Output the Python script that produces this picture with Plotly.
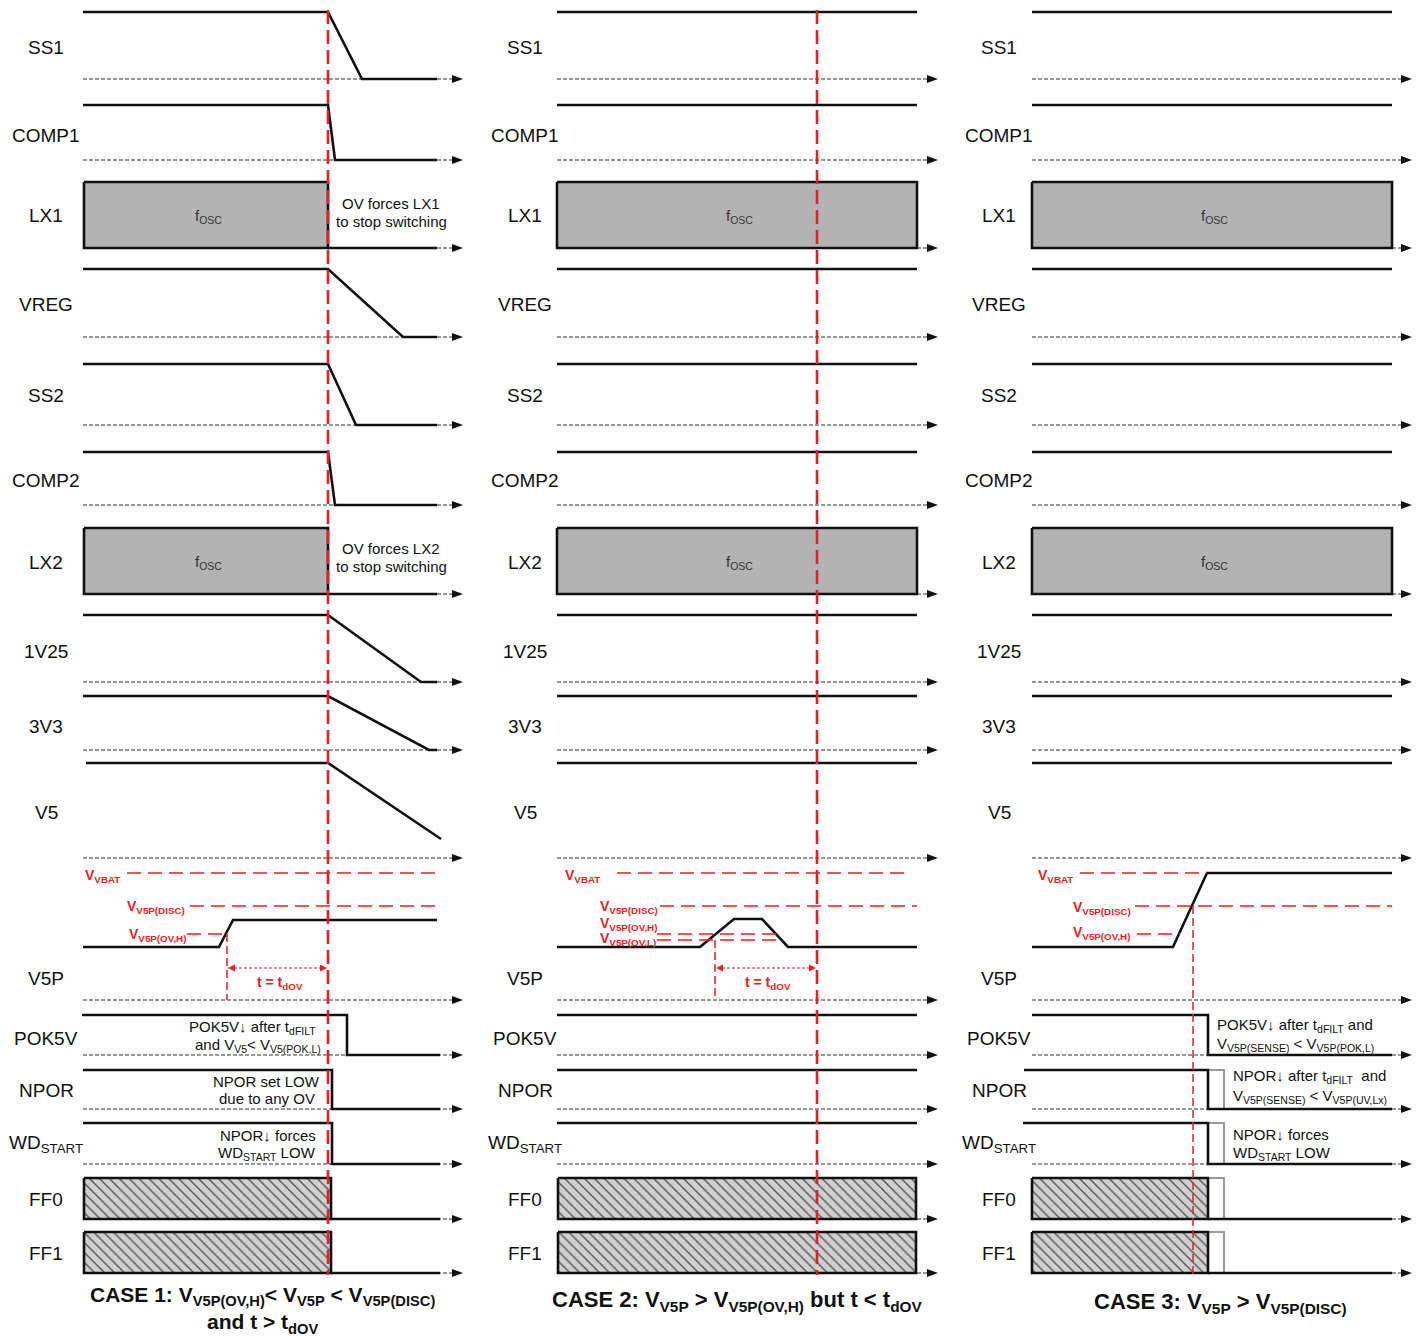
import plotly.graph_objects as go

# ------------------------------------------------------------------ data
# signal rows (top to bottom) and their labels
SIGNALS = ["SS1", "COMP1", "LX1", "VREG", "SS2", "COMP2", "LX2", "1V25", "3V3",
           "V5", "V5P", "POK5V", "NPOR", "WDSTART", "FF0", "FF1"]
LABELS = ["SS1", "COMP1", "LX1", "VREG", "SS2", "COMP2", "LX2", "1V25", "3V3",
          "V5", "V5P", "POK5V", "NPOR", "WD<sub>START</sub>", "FF0", "FF1"]

# ---- CASE 1 waveforms: time (units from panel start) and level (0 = low, 1 = high)
c1_ss1_t = [0, 245, 279, 354];   c1_ss1_v = [1, 1, 0, 0]
c1_comp1_t = [0, 245, 252, 354]; c1_comp1_v = [1, 1, 0, 0]
c1_vreg_t = [0, 245, 320, 354];  c1_vreg_v = [1, 1, 0, 0]
c1_ss2_t = [0, 245, 273, 354];   c1_ss2_v = [1, 1, 0, 0]
c1_comp2_t = [0, 245, 252, 354]; c1_comp2_v = [1, 1, 0, 0]
c1_1v25_t = [0, 245, 338, 354];  c1_1v25_v = [1, 1, 0, 0]
c1_3v3_t = [0, 245, 346, 354];   c1_3v3_v = [1, 1, 0, 0]
c1_v5_t = [3, 245, 358];         c1_v5_v = [1, 1, 0.2]
c1_v5p_t = [0, 136, 150, 354];   c1_v5p_v = [53, 53, 80, 80]
c1_pok5v_t = [-1, 264, 264, 357]; c1_pok5v_v = [1, 1, 0, 0]
c1_npor_t = [0, 249, 249, 357];  c1_npor_v = [1, 1, 0, 0]
c1_wd_t = [0, 249, 249, 357];    c1_wd_v = [1, 1, 0, 0]
c1_lx_box = [1, 245];  c1_lx_low = [245, 354]
c1_ff_box = [1, 248];  c1_ff_low = [248, 357]

# ---- CASE 2 waveforms
c2_flat_t = [0, 360];            c2_flat_v = [1, 1]
c2_v5p_t = [0, 143, 177, 205, 231, 360]; c2_v5p_v = [53, 53, 81, 81, 53, 53]
c2_lx_box = [0, 360]
c2_ff_box = [1, 359]

# ---- CASE 3 waveforms
c3_flat_t = [0, 360];            c3_flat_v = [1, 1]
c3_v5p_t = [0, 141, 175, 360];   c3_v5p_v = [53, 53, 127, 127]
c3_pok5v_t = [0, 176, 176, 360]; c3_pok5v_v = [1, 1, 0, 0]
c3_npor_t = [-8, 176, 176, 360]; c3_npor_v = [1, 1, 0, 0]
c3_wd_t = [-9, 176, 176, 360];   c3_wd_v = [1, 1, 0, 0]
c3_alt_t = [176, 192, 192];      c3_alt_v = [1, 1, 0]
c3_lx_box = [0, 360]
c3_ff_box = [0, 176];  c3_ff_alt = [176, 192]; c3_ff_low = [176, 360]

# V5P threshold levels (same units as V5P waveforms)
V5P_LEVELS = {"VBAT": 127, "DISC": 94, "OVH": 66, "OVL": 60}
V5P_LEVEL_TEXT = {"VBAT": "V<sub>VBAT</sub>", "DISC": "V<sub>V5P(DISC)</sub>",
                  "OVH": "V<sub>V5P(OV,H)</sub>", "OVL": "V<sub>V5P(OV,L)</sub>"}

# event times
T_OV = [245, 260, None]        # red marker line, cases 1 & 2
T_START = [144, 158, None]     # start of t_dOV measurement
T_DISC3 = 161                  # case 3 crossing of V5P(DISC)

# ------------------------------------------------------------------ layout
X0 = [83, 557, 1032]            # panel origin (time 0)
LABEL_X = [46, 525, 999]
ARROW_T = [380, 381, 380]
ROW_HIGH = [12, 105, 182, 269, 364, 452, 528, 615, 696, 763, None, 1015, 1070, 1123, 1178, 1232]
ROW_BASE = [79, 160, 248, 337, 425, 505, 594, 682, 750, 858, 1000, 1055, 1109, 1164, 1219, 1273]
LABEL_Y = [47, 135, 215, 304, 395, 480, 562, 651, 726, 812, 978, 1038, 1090, 1144, 1199, 1253]

RED = "#ec1c24"
FONT = "Liberation Sans, Arial, sans-serif"
ROW = {n: i for i, n in enumerate(SIGNALS)}

fig = go.Figure()


def X(c, t):
    return X0[c] + t


def Y(name, v):
    i = ROW[name]
    if name == "V5P":
        return ROW_BASE[i] - v
    return ROW_BASE[i] - v * (ROW_BASE[i] - ROW_HIGH[i])


def line(xs, ys, color="#111", width=2.6, dash="solid"):
    fig.add_trace(go.Scatter(x=xs, y=ys, mode="lines",
                             line=dict(color=color, width=width, dash=dash),
                             hoverinfo="skip", showlegend=False))


def poly(xs, ys, fill, lw=0, lc="#111", pattern=None):
    kw = dict(x=xs, y=ys, mode="lines", fill="toself", fillcolor=fill,
              line=dict(color=lc, width=lw), hoverinfo="skip", showlegend=False)
    if pattern:
        kw["fillpattern"] = pattern
    fig.add_trace(go.Scatter(**kw))


def text(x, y, s, size=15, color="#111", xanchor="center", bold=False, yanchor="middle"):
    if bold:
        s = "<b>" + s + "</b>"
    fig.add_annotation(x=x, y=y, text=s, showarrow=False, xanchor=xanchor,
                       yanchor=yanchor, font=dict(family=FONT, size=size, color=color))


def wave(c, name, ts, vs, color="#111", width=2.6):
    line([X(c, t) for t in ts], [Y(name, v) for v in vs], color, width)


def box(c, name, span, kind):
    x1, x2 = X(c, span[0]), X(c, span[1])
    y1, y2 = Y(name, 1), Y(name, 0)
    if kind == "lx":
        poly([x1, x2, x2, x1, x1], [y1, y1, y2, y2, y1], "#b3b3b3", 2.6)
    else:
        poly([x1, x2, x2, x1, x1], [y1, y1, y2, y2, y1], "#d0d0d0", 2.6,
             pattern=dict(shape="\\", fgcolor="#555555", bgcolor="#d0d0d0",
                          size=7, solidity=0.2, fillmode="replace"))


# ---- baselines (dashed, with arrow) and labels
for c in range(3):
    for i, name in enumerate(SIGNALS):
        yb = ROW_BASE[i]
        xt = X(c, ARROW_T[c])
        line([X0[c], xt - 10], [yb, yb], "#333", 1.1, "4px,2px")
        poly([xt - 11, xt, xt - 11, xt - 11], [yb - 4, yb, yb + 4, yb - 4], "#111")
        text(LABEL_X[c], LABEL_Y[i], LABELS[i], size=19, color="#111")

# ---- CASE 1
c = 0
for name, ts, vs in [("SS1", c1_ss1_t, c1_ss1_v), ("COMP1", c1_comp1_t, c1_comp1_v),
                     ("VREG", c1_vreg_t, c1_vreg_v), ("SS2", c1_ss2_t, c1_ss2_v),
                     ("COMP2", c1_comp2_t, c1_comp2_v), ("1V25", c1_1v25_t, c1_1v25_v),
                     ("3V3", c1_3v3_t, c1_3v3_v), ("V5", c1_v5_t, c1_v5_v),
                     ("V5P", c1_v5p_t, c1_v5p_v), ("POK5V", c1_pok5v_t, c1_pok5v_v),
                     ("NPOR", c1_npor_t, c1_npor_v), ("WDSTART", c1_wd_t, c1_wd_v)]:
    wave(c, name, ts, vs)
for name in ["LX1", "LX2"]:
    box(c, name, c1_lx_box, "lx")
    wave(c, name, c1_lx_low, [0, 0])
for name in ["FF0", "FF1"]:
    box(c, name, c1_ff_box, "ff")
    wave(c, name, c1_ff_low, [0, 0])

# ---- CASE 2
c = 1
for name in SIGNALS:
    if name in ("LX1", "LX2"):
        box(c, name, c2_lx_box, "lx")
    elif name in ("FF0", "FF1"):
        box(c, name, c2_ff_box, "ff")
    elif name == "V5P":
        wave(c, name, c2_v5p_t, c2_v5p_v)
    else:
        wave(c, name, c2_flat_t, c2_flat_v)

# ---- CASE 3
c = 2
for name in SIGNALS:
    if name in ("LX1", "LX2"):
        box(c, name, c3_lx_box, "lx")
    elif name in ("FF0", "FF1"):
        x1, x2 = X(c, c3_ff_alt[0]), X(c, c3_ff_alt[1])
        line([x1, x2, x2], [Y(name, 1), Y(name, 1), Y(name, 0)], "#9a9a9a", 2.0)
        box(c, name, c3_ff_box, "ff")
        wave(c, name, c3_ff_low, [0, 0])
    elif name == "V5P":
        wave(c, name, c3_v5p_t, c3_v5p_v)
    elif name == "POK5V":
        wave(c, name, c3_pok5v_t, c3_pok5v_v)
    elif name == "NPOR":
        wave(c, name, c3_alt_t, c3_alt_v, "#9a9a9a", 2.0)
        wave(c, name, c3_npor_t, c3_npor_v)
    elif name == "WDSTART":
        wave(c, name, c3_alt_t, c3_alt_v, "#9a9a9a", 2.0)
        wave(c, name, c3_wd_t, c3_wd_v)
    else:
        wave(c, name, c3_flat_t, c3_flat_v)

# ---- fosc labels
for c in range(3):
    span = [c1_lx_box, c2_lx_box, c3_lx_box][c]
    for name in ["LX1", "LX2"]:
        text((X(c, span[0]) + X(c, span[1])) / 2 + 2,
             Y(name, 0.5) + 1, "f<sub>OSC</sub>", size=15, color="#333")

# ---- V5P thresholds (red dashed) and labels
thr_spans = [
    {"VBAT": (44, 354), "DISC": (107, 354), "OVH": (104, 142)},
    {"VBAT": (60, 354), "DISC": (103, 360), "OVH": (100, 220), "OVL": (100, 220)},
    {"VBAT": (48, 175), "DISC": (103, 360), "OVH": (105, 148)},
]
thr_labels = [
    {"VBAT": (0, 876), "DISC": (42, 907), "OVH": (44, 935)},
    {"VBAT": (6, 876), "DISC": (41, 907), "OVH": (41, 924), "OVL": (41, 939)},
    {"VBAT": (4, 876), "DISC": (39, 908), "OVH": (39, 933)},
]
for c in range(3):
    for k, (a, b) in thr_spans[c].items():
        yv = Y("V5P", V5P_LEVELS[k])
        line([X(c, a), X(c, b)], [yv, yv], RED, 1.5, "14px,7px")
    for k, (t, yl) in thr_labels[c].items():
        text(X(c, t), yl, V5P_LEVEL_TEXT[k], size=14, color=RED, xanchor="left", bold=True)

# ---- red event lines
for c in range(2):
    line([X(c, T_OV[c]), X(c, T_OV[c])], [10, 1275], RED, 2.6, "14px,6px")
    ts = T_START[c]
    ytop = Y("V5P", V5P_LEVELS["OVH"] if c == 0 else V5P_LEVELS["OVL"])
    line([X(c, ts), X(c, ts)], [ytop, 1000], RED, 1.5, "8px,4px")
    ya = 968
    xa, xb = X(c, ts) + 1, X(c, T_OV[c]) - 1
    line([xa + 6, xb - 6], [ya, ya], RED, 1.2, "3px,2px")
    poly([xa, xa + 7, xa + 7, xa], [ya, ya - 3.5, ya + 3.5, ya], RED)
    poly([xb, xb - 7, xb - 7, xb], [ya, ya - 3.5, ya + 3.5, ya], RED)
    text((xa + xb) / 2 + 2, 983, "t = t<sub>dOV</sub>", size=14, color=RED, bold=True)

line([X(2, T_DISC3), X(2, T_DISC3)], [Y("V5P", V5P_LEVELS["DISC"]), 1275], RED, 1.5, "8px,4px")

# ---- case 1 notes (right aligned)
notes1 = [
    (318, 1027, "POK5V↓ after t<sub>dFILT</sub>"),
    (323, 1045, "and V<sub>V5</sub>&lt; V<sub>V5(POK,L)</sub>"),
    (322, 1081, "NPOR set LOW"),
    (317, 1098, "due to any OV"),
    (318, 1135, "NPOR↓ forces"),
    (318, 1153, "WD<sub>START</sub> LOW"),
]
for x, y, s in notes1:
    text(x, y, s, size=15, xanchor="right")
text(391, 203, "OV forces LX1", size=15)
text(391, 221, "to stop switching", size=15)
text(391, 548, "OV forces LX2", size=15)
text(391, 566, "to stop switching", size=15)

# ---- case 3 notes (left aligned)
notes3 = [
    (1215, 1025, "POK5V↓ after t<sub>dFILT</sub> and"),
    (1215, 1044, "V<sub>V5P(SENSE)</sub> &lt; V<sub>V5P(POK,L)</sub>"),
    (1231, 1076, "NPOR↓ after t<sub>dFILT</sub>  and"),
    (1231, 1096, "V<sub>V5P(SENSE)</sub> &lt; V<sub>V5P(UV,Lx)</sub>"),
    (1231, 1134, "NPOR↓ forces"),
    (1231, 1153, "WD<sub>START</sub> LOW"),
]
for x, y, s in notes3:
    text(x, y, s, size=15, xanchor="left")

# ---- case titles
text(262, 1339, "CASE 1: V<sub>V5P(OV,H)</sub>&lt; V<sub>V5P</sub> &lt; V<sub>V5P(DISC)</sub><br>and t &gt; t<sub>dOV</sub>",
     size=21, bold=True, yanchor="bottom")
text(737, 1301, "CASE 2: V<sub>V5P</sub> &gt; V<sub>V5P(OV,H)</sub> but t &lt; t<sub>dOV</sub>", size=22, bold=True)
text(1220, 1303, "CASE 3: V<sub>V5P</sub> &gt; V<sub>V5P(DISC)</sub>", size=22, bold=True)

fig.update_layout(
    width=1422, height=1340, margin=dict(l=0, r=0, t=0, b=0),
    font=dict(family=FONT, size=15, color="#111"),
    paper_bgcolor="white", plot_bgcolor="white", showlegend=False,
    xaxis=dict(range=[0, 1422], visible=False, fixedrange=True),
    yaxis=dict(range=[1340, 0], visible=False, fixedrange=True),
    hovermode=False,
)
fig.write_html("out.html", config={"displayModeBar": False},
               post_script="document.body.style.margin='0';")
